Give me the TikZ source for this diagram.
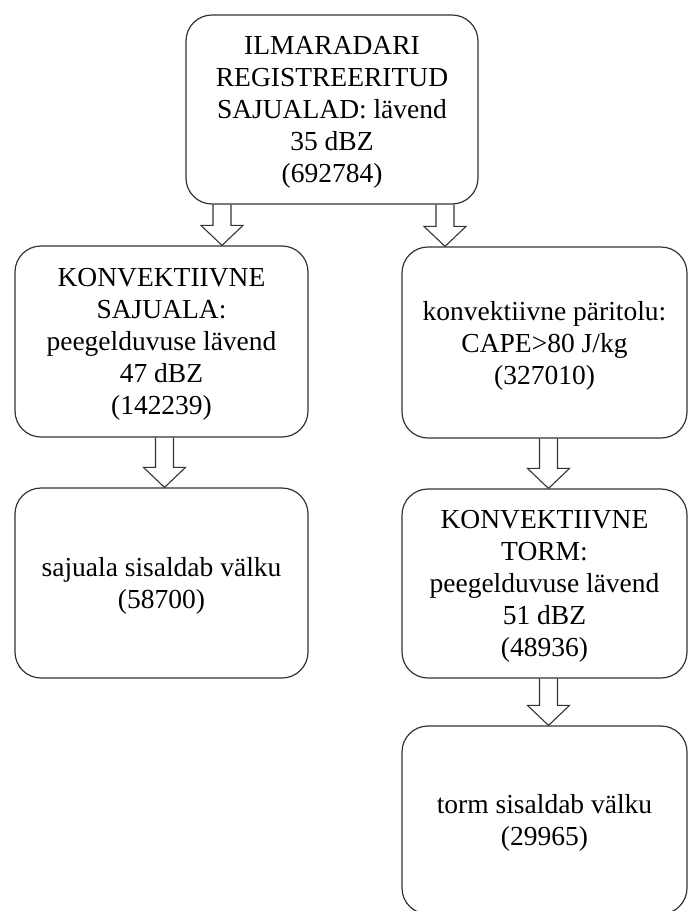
\documentclass[tikz,border=0pt]{standalone}
\usepackage{fontspec}
\setmainfont{Liberation Serif}
\usepackage{tikz}
\usetikzlibrary{calc, positioning}

\newcommand{\hollowarrow}[2]{%
    \draw[arrowline] let \p1=(#1), \p2=(#2) in
        (\x1-9pt,\y1) -- (\x1-9pt,\y2+20pt) -- (\x1-21pt,\y2+20pt) -- (\x2,\y2)
        -- (\x1+21pt,\y2+20pt) -- (\x1+9pt,\y2+20pt) -- (\x1+9pt,\y1);}

\begin{document}
\begin{tikzpicture}[x=1pt, y=-1pt,
    stagebox/.style={draw=black!80, line width=1.2pt, rounded corners=26pt,
        align=center, inner sep=0pt, minimum height=190pt, text depth=-5pt,
        font=\fontsize{27.5}{32}\selectfont},
    arrowline/.style={draw=black!80, line width=1.1pt, line join=miter}]
    \useasboundingbox (0,0) rectangle (688,911);

    \node[stagebox, minimum width=292pt, minimum height=189pt] (radar) at (332,109.5)
        {ILMARADARI\\REGISTREERITUD\\SAJUALAD: lävend\\35 dBZ\\(692784)};

    \node[stagebox, minimum width=293pt, minimum height=191pt] (sajuala) at (161.5,341.5)
        {KONVEKTIIVNE\\SAJUALA:\\peegelduvuse lävend\\47 dBZ\\(142239)};
    \node[stagebox, minimum width=285pt, minimum height=191pt] (cape) at (544.5,342.5)
        {konvektiivne päritolu:\\CAPE>80 J/kg\\(327010)};

    \node[stagebox, minimum width=293pt] (sajvalk) at (161.5,583)
        {sajuala sisaldab välku\\(58700)};
    \node[stagebox, minimum width=285pt, minimum height=189pt] (torm) at (544.5,583.5)
        {KONVEKTIIVNE\\TORM:\\peegelduvuse lävend\\51 dBZ\\(48936)};

    \node[stagebox, minimum width=285pt, minimum height=188pt] (tormvalk) at (544.5,820)
        {torm sisaldab välku\\(29965)};

    % block arrows
    \coordinate (a1) at ($(radar.south)+(-110,0)$);
    \coordinate (a2) at ($(radar.south)+(113,0)$);
    \coordinate (a3) at ($(sajuala.south)+(3,0)$);
    \coordinate (a4) at ($(cape.south)+(4,0)$);
    \coordinate (a5) at ($(torm.south)+(4,0)$);

    \hollowarrow{a1}{a1 |- sajuala.north}
    \hollowarrow{a2}{a2 |- cape.north}
    \hollowarrow{a3}{a3 |- sajvalk.north}
    \hollowarrow{a4}{a4 |- torm.north}
    \hollowarrow{a5}{a5 |- tormvalk.north}
\end{tikzpicture}
\end{document}
